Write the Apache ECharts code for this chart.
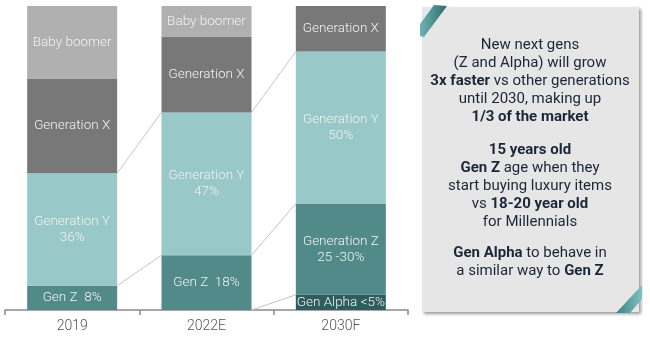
<!DOCTYPE html>
<html><head><meta charset="utf-8">
<script src="https://cdn.jsdelivr.net/npm/echarts@6/dist/echarts.min.js"></script>
<style>html,body{margin:0;padding:0;background:#fff}#c{width:650px;height:341px}</style>
</head><body><div id="c"></div>
<script>
var categories = ['2019', '2022E', '2030F'];
var genAlpha = [0, 0, 5];
var genZ = [8, 18, 30];
var genY = [37, 47, 50];
var genX = [31, 25, 15];
var babyBoomer = [24, 10, 0];

var labelsAlpha = ['', '', 'Gen Alpha <5%'];
var labelsZ = ['Gen Z  8%', 'Gen Z  18%', 'Generation Z\n25 -30%'];
var labelsY = ['Generation Y\n36%', 'Generation Y\n47%', 'Generation Y\n50%'];
var labelsX = ['Generation X', 'Generation X', 'Generation X'];
var labelsBB = ['Baby boomer', 'Baby boomer', ''];

var BAR_W = 90;
var chart = echarts.init(document.getElementById('c'));
var font = 'Roboto';

function mk(name, vals, labels, color) {
  return {
    type: 'bar', name: name, stack: 'g', barWidth: BAR_W,
    itemStyle: { color: color },
    label: {
      show: true, position: 'inside', color: '#f2f2f2', fontFamily: font,
      fontWeight: 300, fontSize: 13.5, lineHeight: 16,
      formatter: function (p) { return labels[p.dataIndex]; }
    },
    data: vals.map(function (v) { return v; })
  };
}

// connector lines between cumulative levels of the young generations
var cumA = genAlpha.slice();
var cumZ = genAlpha.map(function (v, i) { return v + genZ[i]; });
var cumY = cumZ.map(function (v, i) { return v + genY[i]; });
var links = [];
for (var i = 0; i < categories.length - 1; i++) {
  [cumA, cumZ, cumY].forEach(function (arr) {
    if (arr[i] === 0 && arr[i + 1] === 0) return;
    links.push([i, arr[i], arr[i + 1]]);
  });
}

var boxText1 = '{n|New next gens}\n{n|(Z and Alpha) will grow}\n{b|3x faster}{n| vs other generations}\n{n|until 2030, making up}\n{b|1/3 of the market}';
var boxText2 = '{b|15 years old}\n{b|Gen Z}{n| age when they}\n{n|start buying luxury items}\n{n|vs }{b|18-20 year old}\n{n|for Millennials}';
var boxText3 = '{b|Gen Alpha}{n| to behave in}\n{n|a similar way to }{b|Gen Z}';
var rich = {
  n: { fontFamily: font, fontSize: 15, color: '#1b2638', lineHeight: 18 },
  b: { fontFamily: font, fontSize: 15, fontWeight: 'bold', color: '#1b2638', lineHeight: 18 }
};
function txt(t, y) {
  return { type: 'text', x: 530, y: y, z: 10,
    style: { text: t, rich: rich, align: 'center', verticalAlign: 'top', fill: '#1b2638', font: '15px Roboto' } };
}

chart.setOption({
  animation: false,
  grid: { left: 5, right: 242, top: 6, bottom: 31 },
  xAxis: {
    type: 'category', data: categories,
    axisLine: { lineStyle: { color: '#8a8a8a', width: 1.5 } },
    axisTick: { show: true, length: 5, lineStyle: { color: '#8a8a8a', width: 1.5 } },
    axisLabel: { color: '#555', fontSize: 14, fontWeight: 300, fontFamily: font, margin: 9 }
  },
  yAxis: { type: 'value', min: 0, max: 100, show: false },
  series: [
    mk('Gen Alpha', genAlpha, labelsAlpha, '#2f5d5d'),
    mk('Gen Z', genZ, labelsZ, '#528a8a'),
    mk('Generation Y', genY, labelsY, '#98c8c8'),
    mk('Generation X', genX, labelsX, '#787878'),
    mk('Baby boomer', babyBoomer, labelsBB, '#b0b0b0'),
    {
      type: 'custom', z: 1, silent: true,
      renderItem: function (params, api) {
        var p1 = api.coord([api.value(0), api.value(1)]);
        var p2 = api.coord([api.value(0) + 1, api.value(2)]);
        return { type: 'line',
          shape: { x1: p1[0] + BAR_W / 2, y1: p1[1], x2: p2[0] - BAR_W / 2, y2: p2[1] },
          style: { stroke: '#c4c4c4', lineWidth: 1 } };
      },
      data: links
    }
  ],
  graphic: [
    { type: 'rect', z: 5, shape: { x: 422, y: 7, width: 217, height: 305 },
      style: { fill: '#e6e6e6', shadowBlur: 3, shadowOffsetX: 2, shadowOffsetY: 2, shadowColor: 'rgba(0,0,0,0.4)' } },
    { type: 'polygon', z: 6, shape: { points: [[434, 5], [447, 6], [424, 37], [420, 36], [420, 24]] },
      style: { fill: new echarts.graphic.LinearGradient(0, 0, 1, 0, [{ offset: 0, color: '#6fb3b3' }, { offset: 1, color: '#2f6a6a' }]) } },
    { type: 'polygon', z: 6, shape: { points: [[616, 313], [630, 313], [642, 299], [642, 285]] },
      style: { fill: new echarts.graphic.LinearGradient(0, 0, 1, 0, [{ offset: 0, color: '#3f7f7f' }, { offset: 1, color: '#7fc2c2' }]) } },
    txt(boxText1, 36),
    txt(boxText2, 141),
    txt(boxText3, 244)
  ]
});
</script></body></html>
